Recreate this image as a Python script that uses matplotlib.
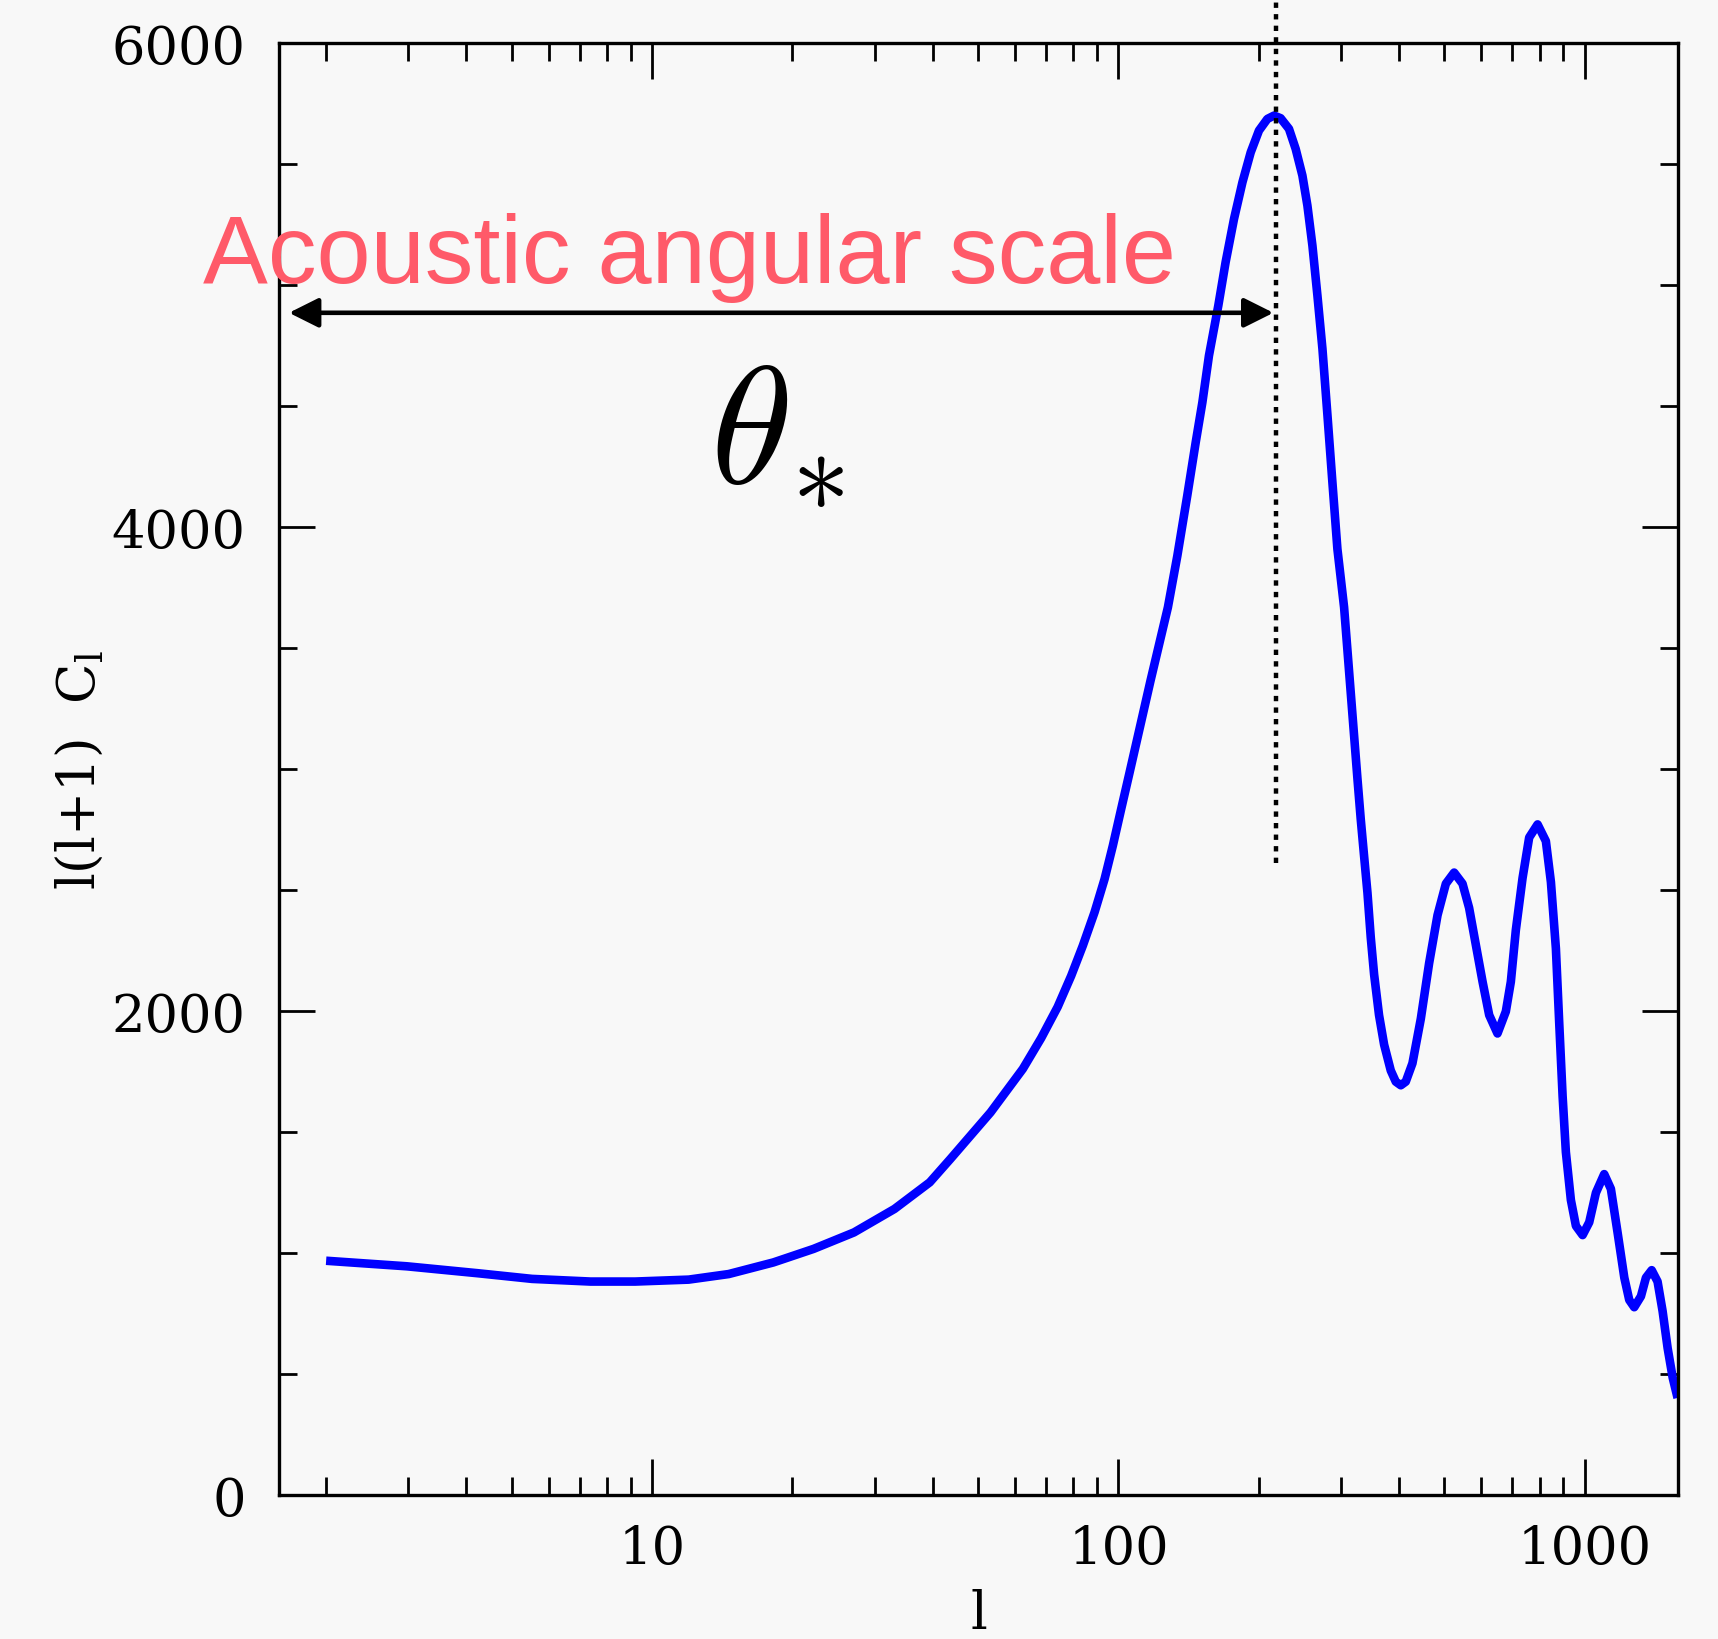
import matplotlib
matplotlib.use("Agg")
import matplotlib.pyplot as plt
from matplotlib.ticker import FixedLocator, FixedFormatter, LogLocator, MultipleLocator, NullFormatter

# multipole l and l(l+1) C_l
ell = [2, 2.98, 4.25, 5.53, 7.38, 9.2, 11.98, 14.6, 18.2, 22.2,
       27.1, 33.1, 39.4, 43.6, 53.2, 62.4, 68.3, 74.1, 79.2, 83.9,
       88.9, 93.4, 97.3, 101.4, 105.7, 117.2, 127.7, 133.8,
       140.5, 146.5, 151.4, 156.4, 163.8, 169.8, 177, 184.5, 192.2, 200.2,
       208.7, 215.7, 222.8, 232.2, 240, 248.1, 254.3, 260.7, 267.2, 273.9,
       280.8, 287.7, 294.9, 304.8, 325.6, 330.9, 336.4, 342.1, 347.7, 353.5,
       362.2, 371.4, 383.8, 393.4, 403.3, 413.3, 427.2, 445.2, 463.8, 483.5,
       503.8, 524.8, 547, 565.1, 584.2, 603.9, 624, 650.1, 677.5, 694.4,
       711.8, 735.7, 760.2, 792.5, 825.5, 846.3, 867.4, 881.7, 896.7, 911.2,
       934, 957.5, 989.7, 1022.6, 1057, 1101, 1138, 1177, 1216, 1246,
       1277, 1320, 1353, 1392, 1433, 1469, 1506, 1544, 1582]
power = [968, 945, 916, 893, 882, 882, 890, 913, 961, 1017,
         1085, 1182, 1292, 1388, 1581, 1761, 1888, 2017, 2145, 2270,
         2408, 2545, 2683, 2835, 2986, 3365, 3668, 3881,
         4129, 4350, 4515, 4708, 4915, 5094, 5273, 5424, 5548, 5638,
         5686, 5700, 5689, 5645, 5562, 5452, 5328, 5162, 4956, 4736,
         4460, 4185, 3909, 3668, 2959, 2793, 2641, 2488, 2304, 2151,
         1983, 1861, 1754, 1708, 1693, 1708, 1784, 1968, 2197, 2396,
         2526, 2572, 2526, 2426, 2273, 2121, 1983, 1907, 1998, 2121,
         2335, 2549, 2717, 2771, 2702, 2533, 2258, 1952, 1647, 1417,
         1219, 1112, 1074, 1127, 1249, 1326, 1265, 1081, 898, 806,
         776, 821, 898, 929, 882, 760, 607, 485, 401]

peak_ell = 217.5
arrow_left = 1.665
arrow_right = 215
arrow_y = 4885

x_ticks = [10, 100, 1000]
x_ticklabels = ["10", "100", "1000"]
y_ticks = [0, 2000, 4000, 6000]

bg = "#f8f8f8"
plt.rcParams["font.family"] = "DejaVu Serif"

fig = plt.figure(figsize=(17.18, 16.4), dpi=100, facecolor=bg)
ax = fig.add_axes([0.1624, 0.0878, 0.8143, 0.8854])
ax.set_facecolor(bg)

ax.plot(ell, power, color="#0000ff", lw=6.2, solid_joinstyle="round", solid_capstyle="butt")

ax.set_xscale("log")
ax.set_xlim(10**0.2, 10**3.2)
ax.set_ylim(0, 6000)

ax.xaxis.set_major_locator(FixedLocator(x_ticks))
ax.xaxis.set_major_formatter(FixedFormatter(x_ticklabels))
ax.xaxis.set_minor_locator(LogLocator(base=10, subs=range(2, 10)))
ax.xaxis.set_minor_formatter(NullFormatter())
ax.yaxis.set_major_locator(FixedLocator(y_ticks))
ax.yaxis.set_minor_locator(MultipleLocator(500))

ax.tick_params(which="both", direction="in", top=True, right=True, width=2, labelsize=38)
ax.tick_params(which="major", length=26)
ax.tick_params(which="minor", length=13)
ax.tick_params(axis="x", which="major", pad=20)
ax.tick_params(axis="y", which="major", pad=24)
for s in ax.spines.values():
    s.set_linewidth(2.4)

ax.set_ylabel("l(l+1)  C$_{\\rm l}$", fontsize=38, math_fontfamily="dejavuserif")
ax.yaxis.set_label_coords(-0.124, 0.5)
ax.set_xlabel("l", fontsize=38)
ax.xaxis.set_label_coords(0.5, -0.064)

# peak marker and angular-scale arrow
ax.plot([peak_ell, peak_ell], [2612, 6170], color="black", lw=3.2,
        linestyle=(0, (1.2, 1.4)), clip_on=False)
ax.annotate("", xy=(arrow_right, arrow_y), xytext=(arrow_left, arrow_y),
            arrowprops=dict(arrowstyle="<|-|>,head_length=0.4,head_width=0.2",
                            color="black", lw=3.3, mutation_scale=45,
                            shrinkA=0, shrinkB=0))

ax.text(1.089, 5012, "Acoustic angular scale", color="#ff5a69", fontsize=70,
        family="Liberation Sans", ha="left", va="baseline")
ax.text(13.3, 4198, r"$\theta_{\!\ast}$", fontsize=120, math_fontfamily="cm",
        ha="left", va="baseline")

fig.savefig("out.png", dpi=100, facecolor=bg)
